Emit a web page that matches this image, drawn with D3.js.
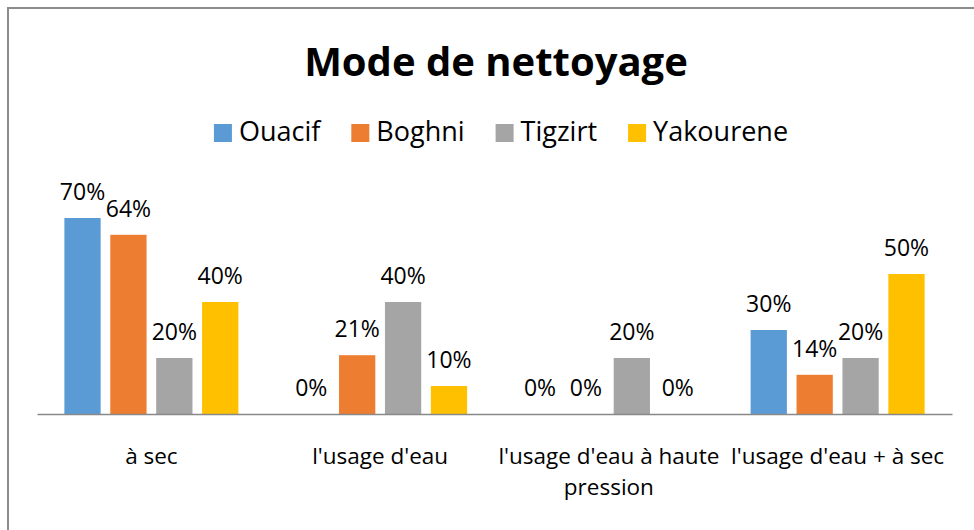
<!DOCTYPE html>
<html>
<head>
<meta charset="utf-8">
<script src="https://cdn.jsdelivr.net/npm/d3@7"></script>
<style>
  html, body { margin: 0; padding: 0; background: #fff; }
  svg { display: block; font-family: "Open Sans", "Noto Sans", sans-serif; }
</style>
</head>
<body>
<svg id="chart" width="974" height="530"></svg>
<script>
const title = "Mode de nettoyage";
const categories = ["à sec", "l'usage d'eau", "l'usage d'eau à haute pression", "l'usage d'eau + à sec"];
const seriesNames = ["Ouacif", "Boghni", "Tigzirt", "Yakourene"];
const ouacif    = [0.70, 0.00, 0.00, 0.30];
const boghni    = [0.64, 0.21, 0.00, 0.14];
const tigzirt   = [0.20, 0.40, 0.20, 0.20];
const yakourene = [0.40, 0.10, 0.00, 0.50];
const colors = ["#5B9BD5", "#ED7D31", "#A5A5A5", "#FFC000"];

const seriesValues = [ouacif, boghni, tigzirt, yakourene];
const svg = d3.select("#chart");

// chart area border
svg.append("rect")
  .attr("x", 8).attr("y", 8).attr("width", 990).attr("height", 540)
  .attr("fill", "#fff").attr("stroke", "#8c8c8c").attr("stroke-width", 2);

// title
svg.append("text")
  .attr("x", 496).attr("y", 76)
  .attr("text-anchor", "middle")
  .attr("font-weight", "bold")
  .attr("font-size", 40)
  .attr("fill", "#000")
  .text(title);

// legend
const legendG = svg.append("g");
const lgItems = legendG.selectAll("g").data(seriesNames).join("g");
lgItems.append("rect").attr("width", 18).attr("height", 18).attr("y", 124)
  .attr("fill", (d, i) => colors[i]);
lgItems.append("text").attr("y", 141).attr("font-size", 27).attr("fill", "#000")
  .text(d => d);
let xpos = 0;
lgItems.each(function(d, i) {
  const tw = d3.select(this).select("text").node().getComputedTextLength();
  d3.select(this).select("rect").attr("x", xpos);
  d3.select(this).select("text").attr("x", xpos + 25);
  xpos += 25 + tw + (i < seriesNames.length - 1 ? 31 : 0);
});
legendG.attr("transform", `translate(${501 - xpos / 2},0)`);

// scales
const x0 = d3.scaleBand().domain(categories).range([37, 952]).padding(0);
const groupW = 174;
const x1 = d3.scaleBand().domain(seriesNames).range([-groupW / 2, groupW / 2]).paddingInner(0.21);
const y = d3.scaleLinear().domain([0, 0.8]).range([414, 190]);

// bars
const catG = svg.selectAll("g.cat").data(categories).join("g")
  .attr("class", "cat")
  .attr("transform", d => `translate(${x0(d) + x0.bandwidth() / 2},0)`);

catG.each(function(cat, ci) {
  const g = d3.select(this);
  const data = seriesNames.map((s, si) => ({ s, si, v: seriesValues[si][ci] }));
  g.selectAll("rect").data(data).join("rect")
    .attr("x", d => x1(d.s))
    .attr("width", x1.bandwidth())
    .attr("y", d => y(d.v))
    .attr("height", d => y(0) - y(d.v))
    .attr("fill", d => colors[d.si]);
  g.selectAll("text").data(data).join("text")
    .attr("x", d => x1(d.s) + x1.bandwidth() / 2)
    .attr("y", d => y(d.v) - 18)
    .attr("text-anchor", "middle")
    .attr("font-size", 23)
    .attr("fill", "#000")
    .text(d => d3.format(".0%")(d.v));
});

// axis
const xAxis = d3.axisBottom(x0).tickSize(0).tickPadding(0);
const axG = svg.append("g").attr("transform", "translate(0,414)").call(xAxis);
axG.select(".domain").attr("stroke", "#898989").attr("stroke-width", 1.5);
axG.selectAll(".tick text").remove();

// category labels with wrapping
const maxW = 240;
const fs = 22.5;
categories.forEach(cat => {
  const cx = x0(cat) + x0.bandwidth() / 2;
  const probe = svg.append("text").attr("font-size", fs);
  const words = cat.split(" ");
  let lines = [], line = [];
  words.forEach(w => {
    line.push(w);
    probe.text(line.join(" "));
    if (probe.node().getComputedTextLength() > maxW && line.length > 1) {
      line.pop();
      lines.push(line.join(" "));
      line = [w];
    }
  });
  lines.push(line.join(" "));
  probe.remove();
  lines.forEach((l, i) => {
    svg.append("text").attr("text-anchor", "middle").attr("font-size", fs).attr("fill", "#000")
      .attr("x", cx).attr("y", 464 + i * 30.5).text(l);
  });
});
</script>
</body>
</html>
